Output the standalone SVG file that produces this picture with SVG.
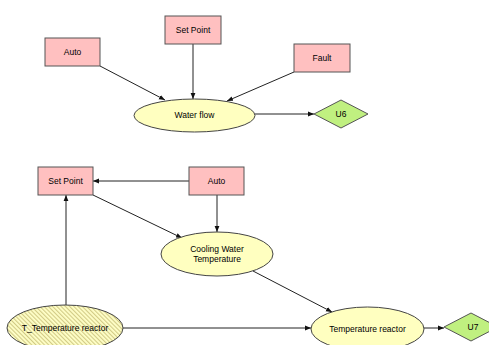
<svg xmlns="http://www.w3.org/2000/svg" width="489" height="345" viewBox="0 0 489 345">
<style>
text{font-family:"Liberation Sans",Arial,sans-serif;font-size:8.5px;fill:#000;text-anchor:middle;dominant-baseline:central}
.r{fill:#FFC0C0;stroke:#555;stroke-width:1}
.e{fill:#FFFFC0;stroke:#444;stroke-width:1}
.h{fill:url(#hatch);stroke:#444;stroke-width:1}
.d{fill:#C0F080;stroke:#555;stroke-width:1}
.c{stroke:#222;stroke-width:1;fill:none;marker-end:url(#ah)}
</style>
<defs>
<marker id="ah" viewBox="0 0 10 10" refX="10" refY="5" markerWidth="6" markerHeight="6" orient="auto" markerUnits="userSpaceOnUse">
<path d="M0,1 L10,5 L0,9 z" fill="#111"/>
</marker>
<pattern id="hatch" width="3" height="3" patternUnits="userSpaceOnUse" patternTransform="rotate(-45)">
<rect width="3" height="3" fill="#FFFFC8"/>
<rect width="1.1" height="3" fill="#D2CB86"/>
</pattern>
</defs>
<rect width="489" height="345" fill="#fff"/>
<g id="connectors">
<line class="c" x1="100" y1="66" x2="165" y2="100"/>
<line class="c" x1="193" y1="44" x2="193" y2="99"/>
<line class="c" x1="294" y1="72" x2="227" y2="101"/>
<line class="c" x1="255" y1="114" x2="314" y2="114"/>
<line class="c" x1="189" y1="181" x2="93" y2="181"/>
<line class="c" x1="93" y1="195" x2="182" y2="238"/>
<line class="c" x1="217" y1="195" x2="217" y2="232"/>
<line class="c" x1="253" y1="271" x2="332" y2="312"/>
<line class="c" x1="66" y1="305" x2="66" y2="195"/>
<line class="c" x1="123" y1="328" x2="311" y2="328"/>
<line class="c" x1="424" y1="328" x2="444" y2="328"/>
</g>
<g id="auto1"><rect class="r" x="45" y="38" width="55" height="28"/><text x="72.5" y="52">Auto</text></g>
<g id="setpoint1"><rect class="r" x="165" y="16" width="56" height="28"/><text x="193" y="30">Set Point</text></g>
<g id="fault"><rect class="r" x="294" y="44" width="56" height="28"/><text x="322" y="58">Fault</text></g>
<g id="waterflow"><ellipse class="e" cx="194.5" cy="115.5" rx="60.5" ry="16.5"/><text x="194.5" y="115">Water flow</text></g>
<g id="u6"><polygon class="d" points="314,114 341,100 368,114 341,128"/><text x="341" y="114">U6</text></g>
<g id="setpoint2"><rect class="r" x="38" y="167" width="55" height="28"/><text x="65.5" y="181">Set Point</text></g>
<g id="auto2"><rect class="r" x="189" y="167" width="55" height="28"/><text x="216.5" y="181">Auto</text></g>
<g id="cwt"><ellipse class="e" cx="217" cy="254" rx="56" ry="22"/><text x="217" y="249">Cooling Water</text><text x="217" y="259">Temperature</text></g>
<g id="ttr"><ellipse class="h" cx="65" cy="328" rx="58" ry="23"/><text x="65" y="327.5">T_Temperature reactor</text></g>
<g id="tr"><ellipse class="e" cx="367.5" cy="329" rx="56.5" ry="22"/><text x="367.5" y="328.5">Temperature reactor</text></g>
<g id="u7"><polygon class="d" points="444,327 471,313 498,327 471,341"/><text x="473" y="327">U7</text></g>
</svg>
